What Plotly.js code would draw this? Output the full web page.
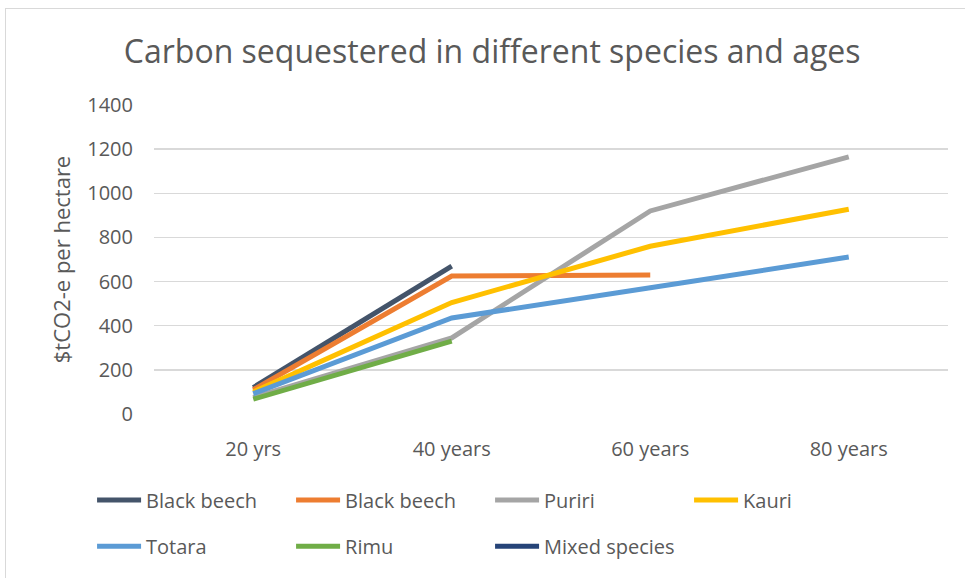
<!DOCTYPE html>
<html><head><meta charset="utf-8">
<script src="https://cdn.plot.ly/plotly-3.0.1.min.js"></script>
<style>
html,body{margin:0;padding:0;background:#fff;}
#wrap{position:relative;width:965px;height:578px;overflow:hidden;}
#chart{position:absolute;left:0;top:0;width:965px;height:578px;}
#frame{position:absolute;left:5px;top:8px;width:980px;height:600px;border:1px solid #d9d9d9;pointer-events:none;}
</style></head>
<body><div id="wrap"><div id="chart"></div><div id="frame"></div></div>
<script>
const categories = ["20 yrs", "40 years", "60 years", "80 years"];
const blackBeech1 = [120, 670, null, null];
const blackBeech2 = [110, 625, 630, null];
const puriri = [75, 345, 920, 1165];
const kauri = [100, 505, 760, 928];
const totara = [92, 435, 572, 711];
const rimu = [67, 330, null, null];
const mixedSpecies = [null, null, null, null];

const names = ["Black beech", "Black beech", "Puriri", "Kauri", "Totara", "Rimu", "Mixed species"];
const series = [blackBeech1, blackBeech2, puriri, kauri, totara, rimu, mixedSpecies];
const colors = ["#44546A", "#ED7D31", "#A5A5A5", "#FFC000", "#5B9BD5", "#70AD47", "#264478"];

const traces = series.map((s, i) => ({
  x: categories, y: s, name: names[i], type: "scatter", mode: "lines",
  line: {color: colors[i], width: 5},
  legend: i < 4 ? "legend" : "legend2",
  hoverinfo: "skip"
}));

const FONT = "'Open Sans', Lato, sans-serif";
const legendFont = {family: FONT, size: 20, color: "#595959"};
const legendCommon = {orientation: "h", x: -0.078, xanchor: "left", yanchor: "top", entrywidth: 140, entrywidthmode: "pixels", itemwidth: 44, font: legendFont, bgcolor: "rgba(0,0,0,0)"};
const layout = {
  width: 965, height: 578,
  margin: {l: 154, r: 17, t: 105, b: 160},
  paper_bgcolor: "#fff", plot_bgcolor: "#fff",
  font: {family: FONT, color: "#595959"},
  title: {text: "Carbon sequestered in different species and ages", font: {family: FONT, size: 32, color: "#595959"}, x: 0.51, xanchor: "center", y: 0.91, yanchor: "middle"},
  xaxis: {type: "category", range: [-0.5, 3.5], showgrid: false, zeroline: false, showline: false, ticks: "", tickfont: {size: 20, color: "#595959"}, ticklabelstandoff: 21},
  yaxis: {range: [0, 1400], dtick: 200, showgrid: true, gridcolor: "#D9D9D9", gridwidth: 1.3, zeroline: false, showline: false, ticks: "", tickfont: {size: 20, color: "#595959"}, ticklabelstandoff: 20,
    title: {text: "$tCO2-e per hectare", font: {size: 22, color: "#595959"}, standoff: 10}},
  showlegend: true,
  legend: Object.assign({y: -0.215}, legendCommon),
  legend2: Object.assign({y: -0.365}, legendCommon)
};
Plotly.newPlot("chart", traces, layout, {displayModeBar: false, staticPlot: true});
</script></body></html>
